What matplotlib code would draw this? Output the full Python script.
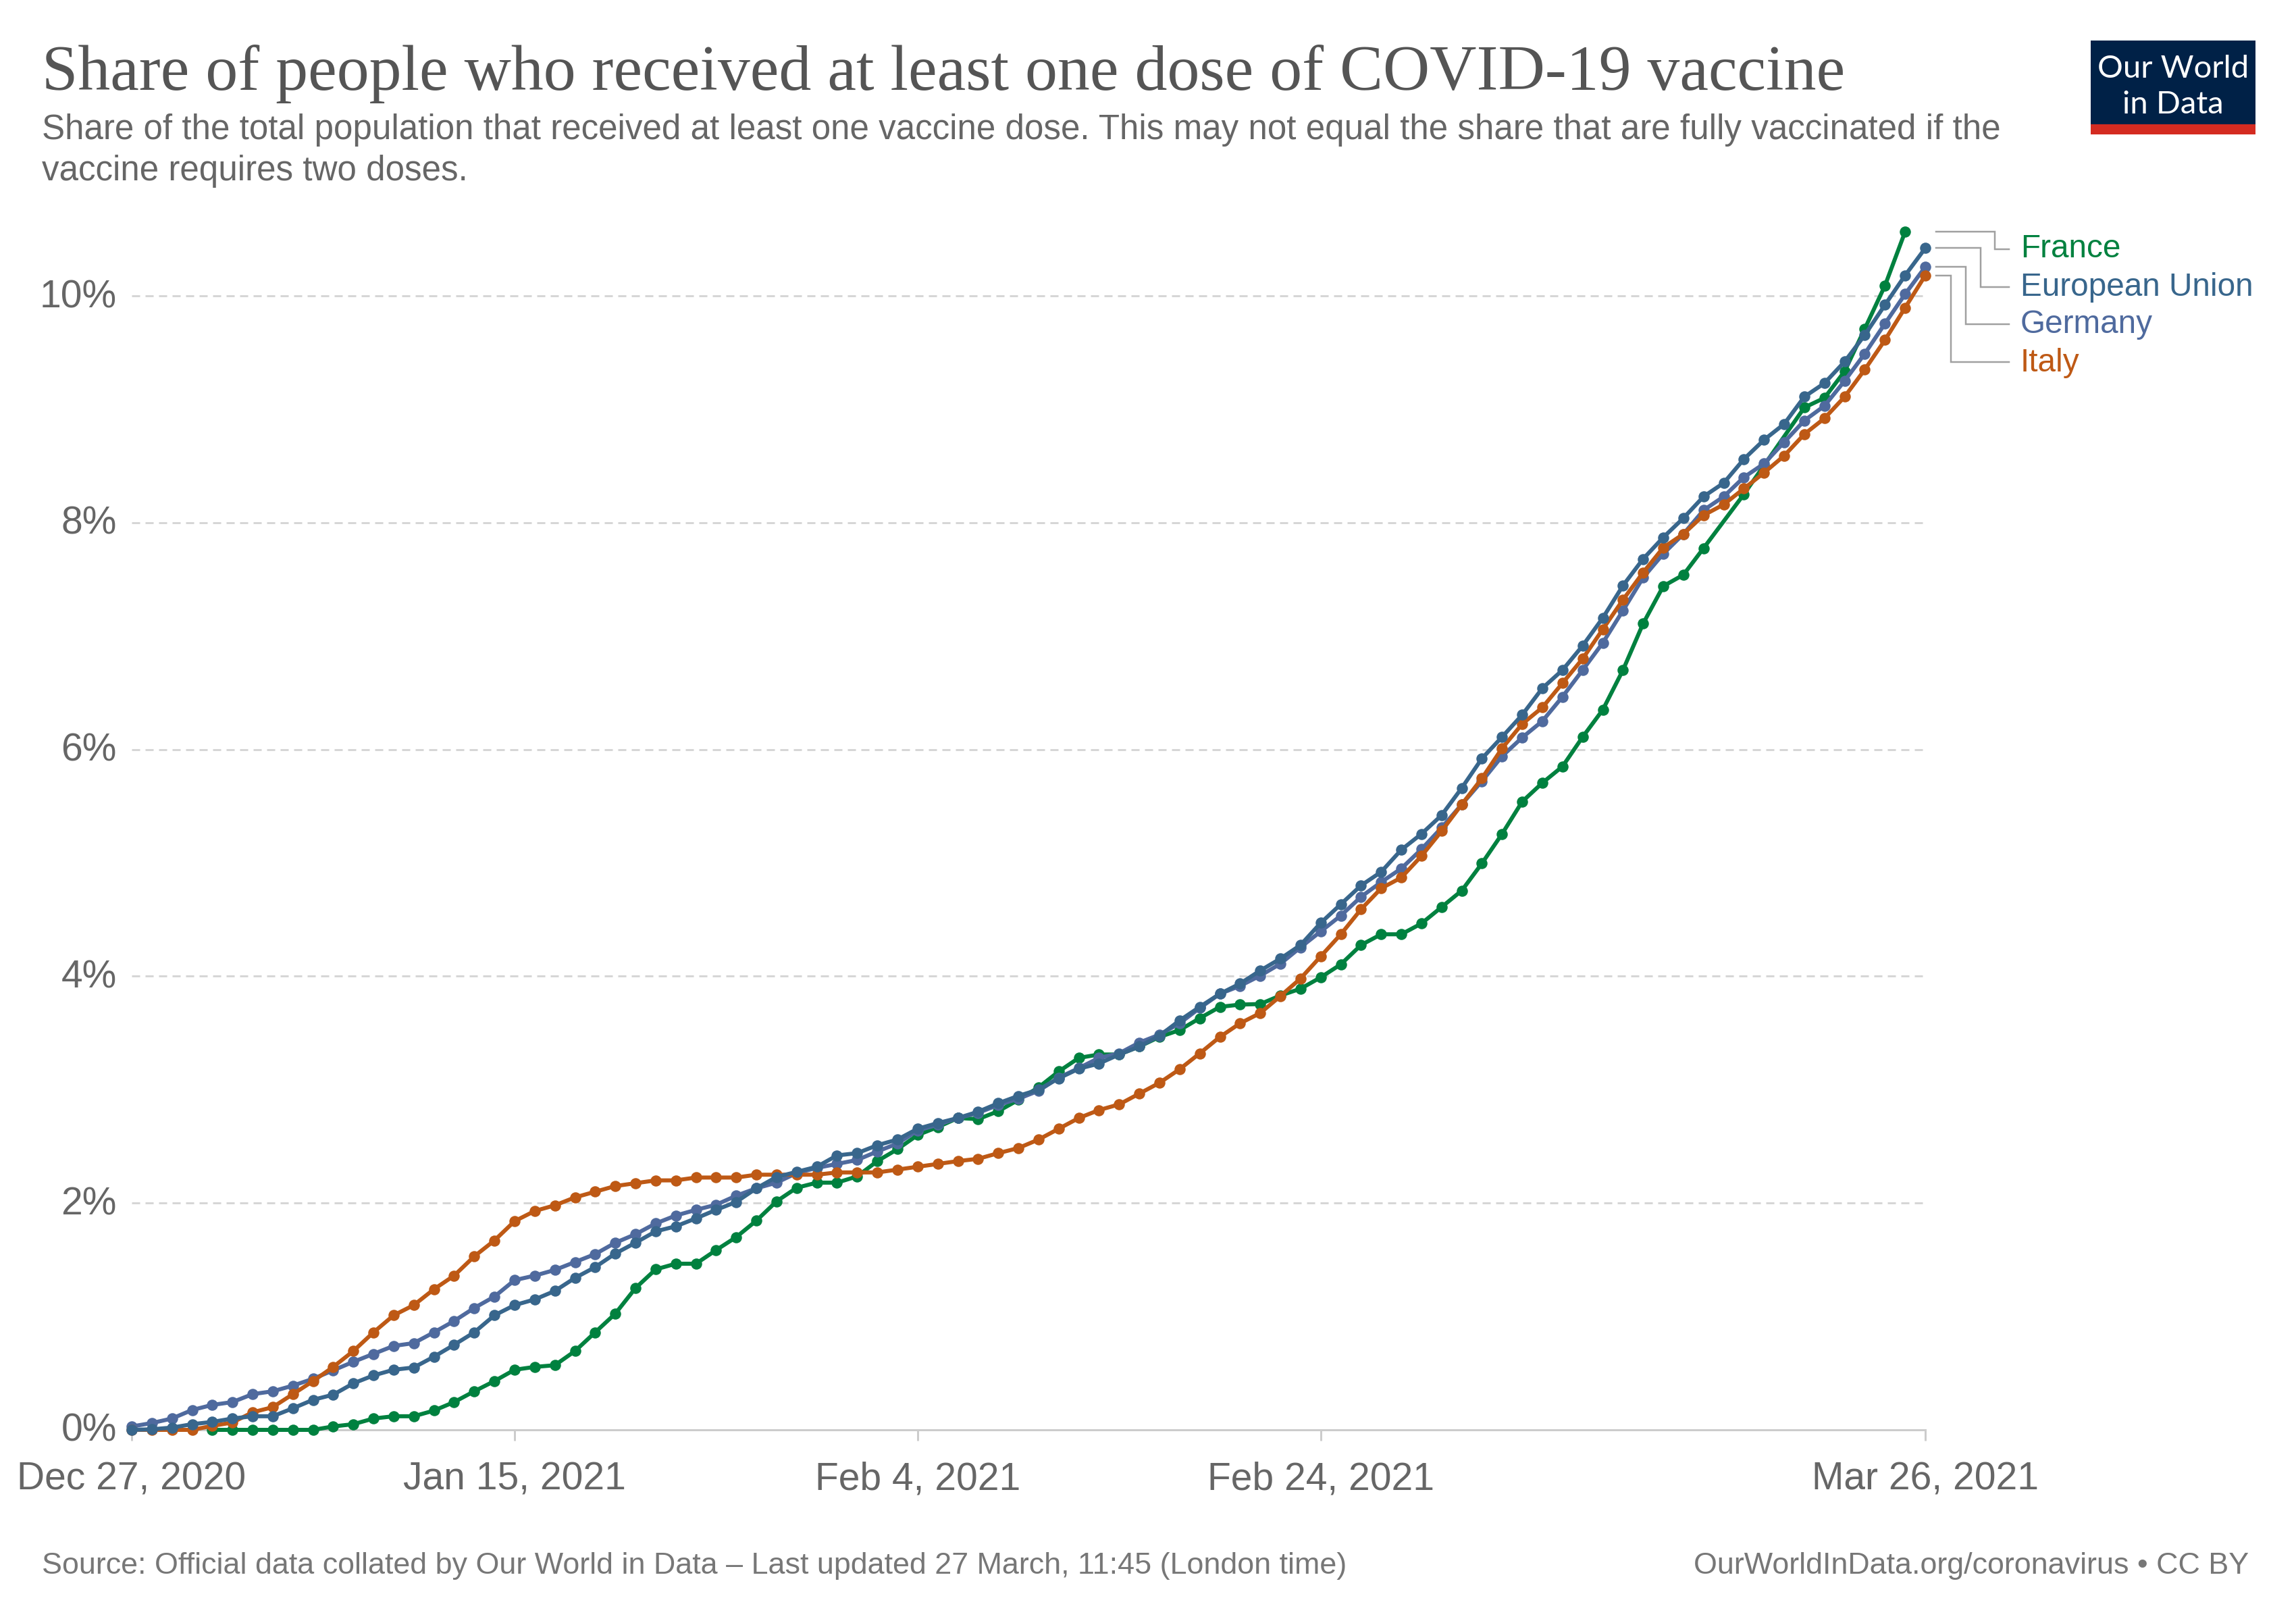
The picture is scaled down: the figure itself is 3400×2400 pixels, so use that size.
import numpy as np
import pandas as pd
import matplotlib
matplotlib.use("Agg")
import matplotlib.pyplot as plt
from matplotlib.lines import Line2D
from matplotlib.patches import Rectangle
from matplotlib.transforms import ScaledTranslation

nan = np.nan

# daily values, Dec 27 2020 - Mar 26 2021 (% of population)
dates = pd.date_range("2020-12-27", "2021-03-26")

# France has a few days with no report, the line just runs across them
france = [nan, nan, nan, nan, 0, 0, 0, 0, 0, 0,
          .03, .05, .10, .12, .12, .17, .245, .34, .43, .53,
          .555, .57, .695, .86, 1.025, 1.25, 1.415, 1.465, 1.465, 1.585,
          1.70, 1.845, 2.015, 2.135, 2.18, 2.18, 2.235, 2.37, 2.475, 2.60,
          2.67, 2.75, 2.74, 2.81, 2.91, 3.02, 3.16, 3.28, 3.31, 3.31,
          3.38, 3.465, 3.525, 3.63, 3.73, 3.75, 3.755, 3.83, 3.89, 3.99,
          4.105, 4.275, 4.37, 4.37, 4.465, 4.61, 4.755, 4.995, 5.255, 5.54,
          5.705, 5.85, 6.11, 6.35, 6.70, 7.11, 7.44, 7.54, 7.775, nan,
          8.25, 8.505, nan, 9.015, 9.10, 9.335, 9.71, 10.09, 10.565, nan]

eu = [0, .005, .02, .05, .07, .10, .12, .12, .19, .265,
      .31, .41, .48, .53, .55, .645, .75, .86, 1.01, 1.10,
      1.15, 1.225, 1.34, 1.435, 1.555, 1.65, 1.75, 1.795, 1.865, 1.94,
      2.01, 2.13, 2.23, 2.275, 2.32, 2.42, 2.44, 2.51, 2.56, 2.655,
      2.705, 2.75, 2.805, 2.88, 2.945, 3.00, 3.10, 3.185, 3.23, 3.31,
      3.38, 3.475, 3.61, 3.73, 3.845, 3.935, 4.05, 4.155, 4.275, 4.47,
      4.635, 4.80, 4.92, 5.115, 5.255, 5.42, 5.66, 5.92, 6.11, 6.305,
      6.54, 6.70, 6.915, 7.16, 7.445, 7.68, 7.87, 8.04, 8.23, 8.35,
      8.56, 8.73, 8.87, 9.11, 9.23, 9.42, 9.655, 9.92, 10.18, 10.42]

germany = [.03, .06, .10, .175, .22, .245, .315, .34, .39, .45,
           .525, .60, .67, .74, .765, .86, .96, 1.075, 1.175, 1.32,
           1.36, 1.41, 1.48, 1.55, 1.65, 1.725, 1.82, 1.89, 1.94, 1.985,
           2.065, 2.13, 2.18, 2.265, 2.31, 2.345, 2.38, 2.455, 2.525, 2.64,
           2.69, 2.75, 2.795, 2.865, 2.92, 2.99, 3.105, 3.19, 3.28, 3.32,
           3.415, 3.485, 3.585, 3.72, 3.845, 3.915, 4.005, 4.11, 4.255, 4.395,
           4.535, 4.70, 4.83, 4.95, 5.12, 5.31, 5.515, 5.72, 5.94, 6.105,
           6.25, 6.465, 6.70, 6.94, 7.225, 7.515, 7.725, 7.90, 8.11, 8.23,
           8.40, 8.52, 8.71, 8.90, 9.03, 9.25, 9.49, 9.755, 10.015, 10.255]

italy = [0, 0, 0, 0, .035, .065, .155, .20, .315, .43,
         .555, .695, .86, 1.01, 1.10, 1.24, 1.36, 1.53, 1.67, 1.84,
         1.93, 1.98, 2.05, 2.10, 2.15, 2.175, 2.20, 2.20, 2.225, 2.225,
         2.225, 2.25, 2.25, 2.25, 2.25, 2.27, 2.27, 2.27, 2.295, 2.32,
         2.345, 2.37, 2.39, 2.44, 2.485, 2.56, 2.655, 2.75, 2.82, 2.87,
         2.965, 3.06, 3.18, 3.32, 3.465, 3.585, 3.675, 3.825, 3.98, 4.175,
         4.37, 4.59, 4.775, 4.87, 5.06, 5.28, 5.515, 5.745, 6.01, 6.225,
         6.37, 6.585, 6.80, 7.06, 7.32, 7.56, 7.78, 7.90, 8.065, 8.16,
         8.30, 8.44, 8.59, 8.78, 8.92, 9.11, 9.35, 9.61, 9.895, 10.18]

x_ticks = ["2020-12-27", "2021-01-15", "2021-02-04", "2021-02-24", "2021-03-26"]
x_labels = ["Dec 27, 2020", "Jan 15, 2021", "Feb 4, 2021", "Feb 24, 2021", "Mar 26, 2021"]
y_ticks = [0, 2, 4, 6, 8, 10]
y_labels = ["0%", "2%", "4%", "6%", "8%", "10%"]

GREEN = "#00813F"
TEAL = "#38668C"
BLUE = "#4F6A9E"
ORANGE = "#BE5915"

W, H = 3400, 2400
DPI = 200
PX = 72 / DPI  # one image pixel in points

plt.rcParams["font.family"] = ["Liberation Sans", "DejaVu Sans"]

fig = plt.figure(figsize=(W / DPI, H / DPI), dpi=DPI, facecolor="white")


def fx(px):
    return px / W


def fy(py):
    return 1 - py / H


ax = fig.add_axes([fx(195), fy(2117), fx(2851 - 195), 11 * 167.9 / H])
ax.set_ylim(0, 11)
ax.set_xlim(dates[0], dates[-1])
for s in ["top", "left", "right"]:
    ax.spines[s].set_visible(False)
ax.spines["bottom"].set_color("#cccccc")
ax.spines["bottom"].set_linewidth(3 * PX)

ax.set_yticks(y_ticks)
ax.set_yticklabels(y_labels)
ax.set_xticks(pd.to_datetime(x_ticks))
ax.set_xticklabels(x_labels)
ax.tick_params(axis="x", length=16 * PX, width=3 * PX, color="#cccccc", pad=11,
               labelsize=20.5, labelcolor="#666666")
ax.tick_params(axis="y", length=0, pad=8, labelsize=20.5, labelcolor="#666666")

# y labels sit a little above their gridlines
nudge = ScaledTranslation(0, 4 / DPI, fig.dpi_scale_trans)
for lab in ax.get_yticklabels():
    lab.set_transform(lab.get_transform() + nudge)

for v in y_ticks[1:]:
    ax.plot([dates[0], dates[-1]], [v, v], color="#d6d6d6", lw=3 * PX,
            dashes=(12 / 3, 8 / 3), dash_capstyle="butt", zorder=1)

# draw order from the reference: France lowest, EU on top
for vals, col in [(france, GREEN), (germany, BLUE), (italy, ORANGE), (eu, TEAL)]:
    s = pd.Series(vals, index=dates).dropna()
    ax.plot(s.index, s.values, color=col, lw=6 * PX, marker="o", ms=16.5 * PX,
            mew=0, clip_on=False, zorder=3)

# end labels with their connectors
labels = [("France", GREEN, france[-2], 2954, 369, 381),
          ("European Union", TEAL, eu[-1], 2933, 425, 438),
          ("Germany", BLUE, germany[-1], 2911, 480, 493),
          ("Italy", ORANGE, italy[-1], 2889, 536, 550)]
for name, col, last, elbow, y_end, base in labels:
    y_start = 2117 - last * 167.9
    fig.add_artist(Line2D([fx(2867), fx(elbow), fx(elbow), fx(2975)],
                          [fy(y_start), fy(y_start), fy(y_end), fy(y_end)],
                          color="#a0a0a0", lw=2.5 * PX, solid_joinstyle="miter"))
    fig.text(fx(2992), fy(base), name, color=col, fontsize=17.2, va="baseline")

# header
fig.text(fx(62), fy(133), "Share of people who received at least one dose of COVID-19 vaccine",
         family="Liberation Serif", fontsize=34.5, color="#555555", va="baseline")
fig.text(fx(62), fy(206),
         "Share of the total population that received at least one vaccine dose. "
         "This may not equal the share that are fully vaccinated if the",
         fontsize=18.4, color="#666666", va="baseline")
fig.text(fx(62), fy(267), "vaccine requires two doses.", fontsize=18.4, color="#666666", va="baseline")

# logo
fig.add_artist(Rectangle((fx(3096), fy(199)), fx(244), (199 - 60) / H, color="#002147",
                         transform=fig.transFigure, lw=0))
fig.add_artist(Rectangle((fx(3096), fy(199)), fx(244), (199 - 184) / H, color="#D42B21",
                         transform=fig.transFigure, lw=0))
fig.text(fx(3218), fy(115), "Our World", family="Lato", fontsize=17, color="white",
         ha="center", va="baseline")
fig.text(fx(3218), fy(168), "in Data", family="Lato", fontsize=17, color="white",
         ha="center", va="baseline")

# footer
fig.text(fx(62), fy(2330),
         "Source: Official data collated by Our World in Data \u2013 Last updated 27 March, 11:45 (London time)",
         fontsize=16.15, color="#777777", va="baseline")
fig.text(fx(3330), fy(2330), "OurWorldInData.org/coronavirus \u2022 CC BY",
         fontsize=16.15, color="#777777", ha="right", va="baseline")

fig.savefig("out.png", dpi=DPI, facecolor="white")
